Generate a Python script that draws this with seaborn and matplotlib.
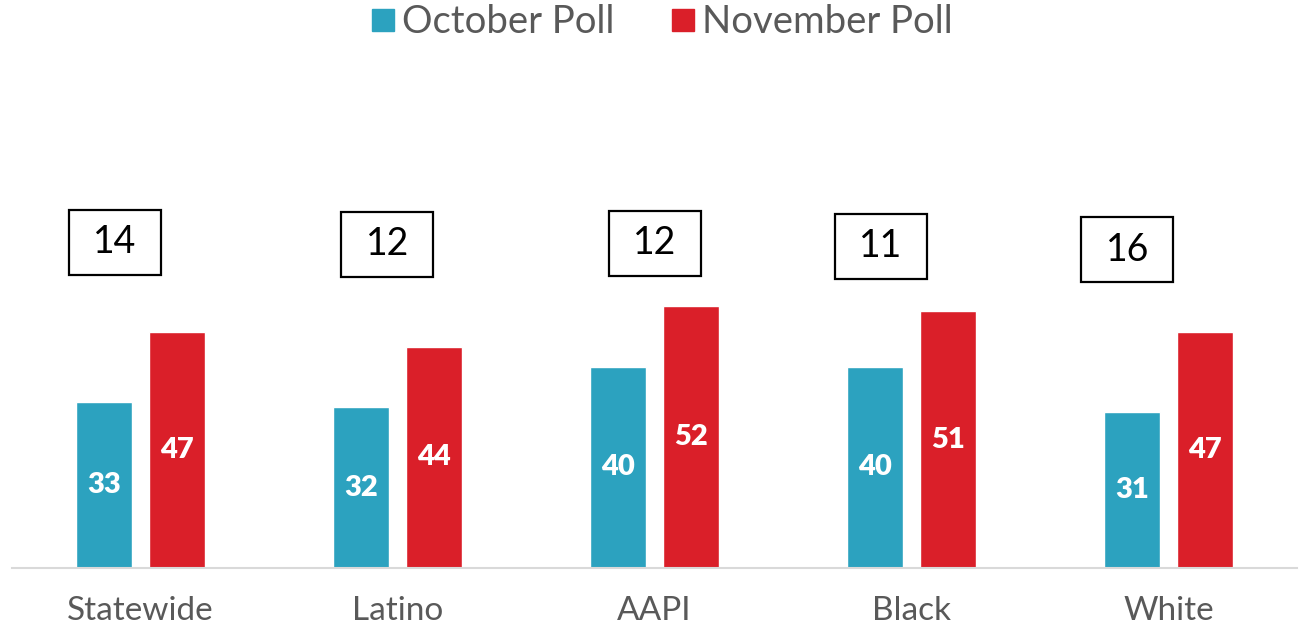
import numpy as np
import pandas as pd
import matplotlib.pyplot as plt
import matplotlib.patches as mpatches
from matplotlib.lines import Line2D
import seaborn as sns

groups = ['Statewide', 'Latino', 'AAPI', 'Black', 'White']
october = [33, 32, 40, 40, 31]
november = [47, 44, 52, 51, 47]
gaps = [14, 12, 12, 11, 16]

# box placement (layout only)
box_dx = [-0.10, -0.04, 0.0, -0.12, -0.16]
box_y = [64.8, 64.4, 64.6, 64.0, 63.3]

blue = '#2CA2BF'
red = '#DA1F29'

df = pd.DataFrame({
    'group': groups * 2,
    'poll': ['October Poll'] * 5 + ['November Poll'] * 5,
    'value': october + november,
})

sns.set_style('white')
plt.rcParams['font.family'] = ['Lato', 'DejaVu Sans']

fig = plt.figure(figsize=(13.01, 6.26), dpi=100)
ax = fig.add_axes([12 / 1301, 1 - 568 / 626, (1297 - 12) / 1301, 503 / 626])

sns.barplot(data=df, x='group', y='value', hue='poll', order=groups,
            hue_order=['October Poll', 'November Poll'],
            palette=[blue, red], saturation=1, width=0.568, gap=0.22,
            ax=ax, legend=False)

for cont in ax.containers:
    ax.bar_label(cont, labels=[f'{v:.0f}' for v in cont.datavalues],
                 label_type='center', color='white', fontsize=21,
                 fontweight='heavy')

bw, bh = 92 / 257, 65 / 5.03
for i, g in enumerate(gaps):
    cx = i + box_dx[i]
    ax.add_patch(mpatches.Rectangle((cx - bw / 2, box_y[i] - bh / 2), bw, bh,
                                    fill=False, edgecolor='black', lw=1.6,
                                    clip_on=False))
    ax.text(cx, box_y[i], str(g), ha='center', va='center', fontsize=27,
            color='black')

ax.set_xlim(-0.5, 4.5)
ax.set_ylim(0, 100)
ax.set_xlabel('')
ax.set_ylabel('')
ax.set_yticks([])
for s in ['top', 'right', 'left']:
    ax.spines[s].set_visible(False)
ax.spines['bottom'].set_color('#D9D9D9')
ax.spines['bottom'].set_linewidth(1.5)
ax.tick_params(axis='x', length=0, pad=20, labelsize=24, labelcolor='#595959')

handles = [Line2D([], [], marker='s', linestyle='', markersize=16, color=blue),
           Line2D([], [], marker='s', linestyle='', markersize=16, color=red)]
fig.legend(handles, ['October Poll', 'November Poll'], loc='center',
           bbox_to_anchor=(660 / 1301, 1 - 22 / 626), ncol=2, frameon=False,
           fontsize=27.5, labelcolor='#595959', handletextpad=0.1,
           columnspacing=1.4, handlelength=0.8)

fig.savefig('out.png', dpi=100)
